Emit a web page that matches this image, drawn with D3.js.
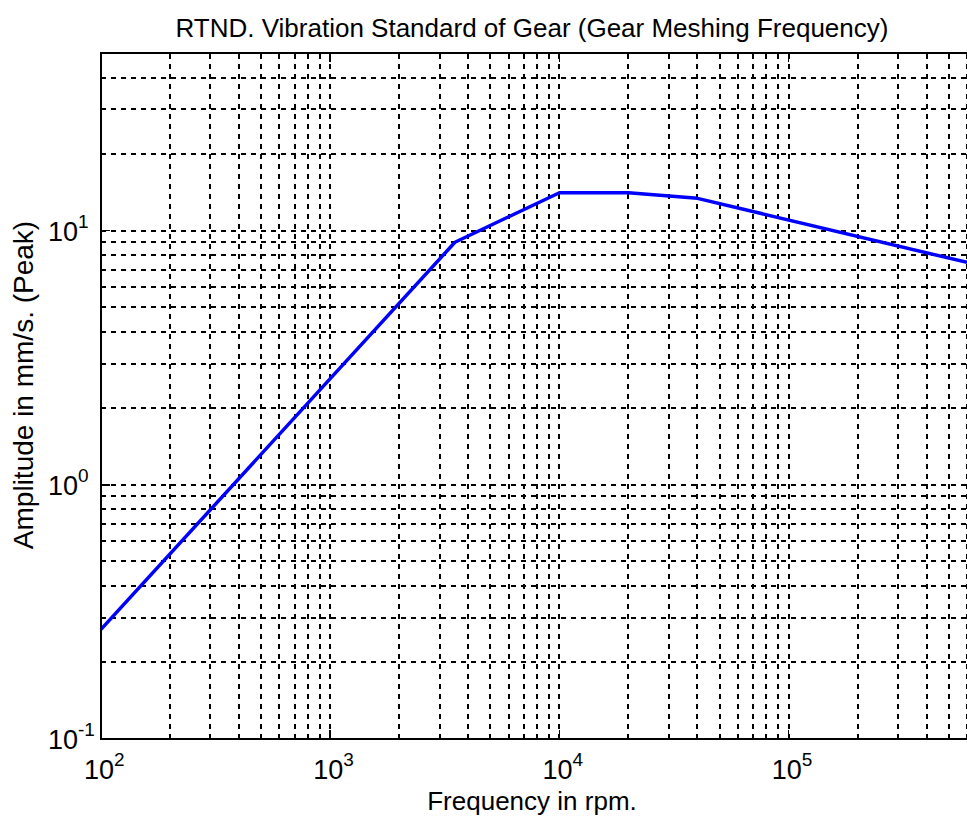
<!DOCTYPE html>
<html>
    <head>
        <title>gear vibration</title>
        <meta charset="utf-8">
        <style>
        body { margin: 0; background: #fff; }
        text { font-family: "Liberation Sans", Arial, sans-serif; fill: #000; }
        .grid line { stroke: #000; stroke-width: 1.3; stroke-dasharray: 5,5; shape-rendering: crispEdges; }
        .ticks line { stroke: #000; stroke-width: 1.5; shape-rendering: crispEdges; }
        </style>
        <script src="https://cdn.jsdelivr.net/npm/d3@7"></script>
    </head>
    <body>
        <svg width="967" height="823"></svg>
        <script>
// data (rpm / mm/s peak)
var freq = [100, 3500, 10000, 20000, 40000, 600000];
var amp  = [0.27, 9.0, 14.1, 14.1, 13.4, 7.5];

var xDecades = [2, 3, 4, 5];
var yDecades = [-1, 0, 1];
var xDomain = [100, 600000];
var yDomain = [0.1, 50];

var svg = d3.select("svg");
// note: "top" is taken by window.top, so use other names
var pL = 101, pR = 967, pT = 53, pB = 739;

var x = d3.scaleLog().domain(xDomain).range([pL, pR]);
var y = d3.scaleLog().domain(yDomain).range([pB, pT]);

// every 1..9 x 10^k inside the domain
function logSteps(dom) {
    var out = [];
    var k0 = Math.floor(Math.log10(dom[0])), k1 = Math.ceil(Math.log10(dom[1]));
    for (var k = k0; k <= k1; ++k) {
        for (var m = 1; m <= 9; ++m) {
            var v = m * Math.pow(10, k);
            if (v >= dom[0] * 0.999 && v <= dom[1] * 1.001) out.push(v);
        }
    }
    return out;
}
var xs = logSteps(xDomain);
var ys = logSteps(yDomain);
function isMajor(v) { return Math.abs(Math.log10(v) - Math.round(Math.log10(v))) < 1e-9; }

var grid = svg.append("g").attr("class", "grid");
grid.selectAll("line.v").data(xs.filter(function(v){ return v > xDomain[0]; }))
    .enter().append("line").attr("class", "v")
    .attr("x1", function(d){ return Math.round(x(d)); })
    .attr("x2", function(d){ return Math.round(x(d)); })
    .attr("y1", pB).attr("y2", pT);
grid.selectAll("line.h").data(ys.filter(function(v){ return v > yDomain[0] && v < yDomain[1]; }))
    .enter().append("line").attr("class", "h")
    .attr("y1", function(d){ return Math.round(y(d)); })
    .attr("y2", function(d){ return Math.round(y(d)); })
    .attr("x1", pL).attr("x2", pR);

// ticks, inside, MATLAB style
var tk = svg.append("g").attr("class", "ticks");
tk.selectAll("line.xb").data(xs).enter().append("line")
    .attr("x1", function(d){ return x(d); }).attr("x2", function(d){ return x(d); })
    .attr("y1", pB).attr("y2", function(d){ return pB - (isMajor(d) ? 9 : 5); });
tk.selectAll("line.xt").data(xs).enter().append("line")
    .attr("x1", function(d){ return x(d); }).attr("x2", function(d){ return x(d); })
    .attr("y1", pT).attr("y2", function(d){ return pT + (isMajor(d) ? 9 : 5); });
tk.selectAll("line.yl").data(ys).enter().append("line")
    .attr("y1", function(d){ return y(d); }).attr("y2", function(d){ return y(d); })
    .attr("x1", pL).attr("x2", function(d){ return pL + (isMajor(d) ? 9 : 5); });

var line = d3.line()
    .x(function(d, i){ return x(freq[i]); })
    .y(function(d, i){ return y(amp[i]); });

svg.append("path")
    .datum(amp)
    .attr("d", line)
    .attr("fill", "none")
    .attr("stroke", "#0000ff")
    .attr("stroke-width", 3.5)
    .attr("stroke-linejoin", "round");

// box
svg.append("rect")
    .attr("x", pL).attr("y", pT)
    .attr("width", pR - pL + 2).attr("height", pB - pT)
    .attr("fill", "none").attr("stroke", "#000").attr("stroke-width", 2);

// tick labels 10^k
var xl = svg.append("g").selectAll("text").data(xDecades).enter().append("text")
    .attr("x", function(d){ return x(Math.pow(10, d)) - 17; })
    .attr("y", 779)
    .attr("font-size", "27px");
xl.append("tspan").text("10");
xl.append("tspan").attr("font-size", "19px").attr("dy", -13).text(function(d){ return d; });

var yl = svg.append("g").selectAll("text").data(yDecades).enter().append("text")
    .attr("x", 48)
    .attr("y", function(d){ return y(Math.pow(10, d)) + 10; })
    .attr("font-size", "27px");
yl.append("tspan").text("10");
yl.append("tspan").attr("font-size", "19px").attr("dy", -13).text(function(d){ return d; });

svg.append("text")
    .attr("x", 532).attr("y", 37)
    .attr("text-anchor", "middle")
    .attr("font-size", "26px")
    .text("RTND. Vibration Standard of Gear (Gear Meshing Frequency)");

svg.append("text")
    .attr("x", 532).attr("y", 810)
    .attr("text-anchor", "middle")
    .attr("font-size", "26px")
    .text("Frequency in rpm.");

svg.append("text")
    .attr("transform", "translate(33,385) rotate(-90)")
    .attr("text-anchor", "middle")
    .attr("font-size", "28px")
    .text("Amplitude in mm/s. (Peak)");
        </script>
    </body>
</html>
